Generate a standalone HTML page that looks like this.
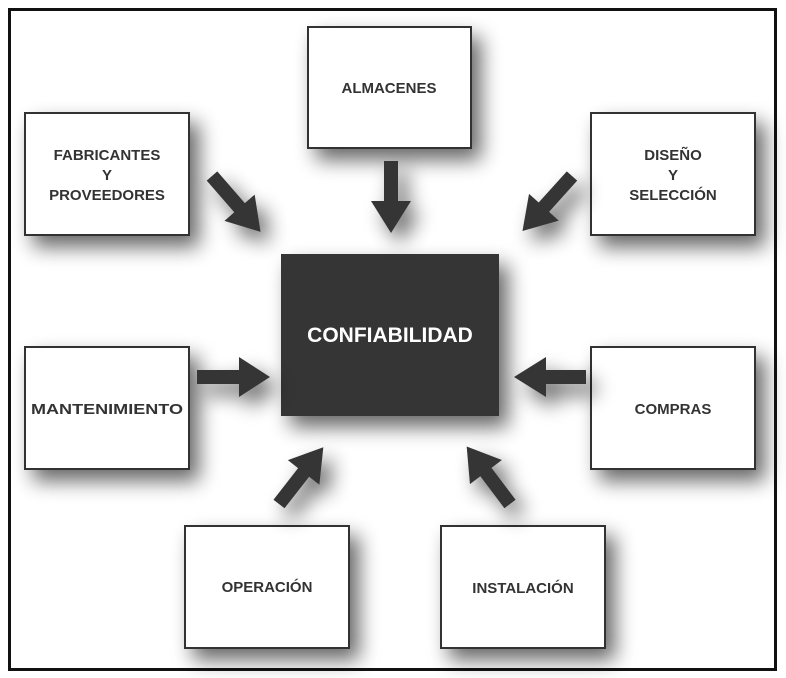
<!DOCTYPE html>
<html><head><meta charset="utf-8"><style>
html,body{margin:0;padding:0;background:#fff;}
svg{display:block;}
text{font-family:"Liberation Sans",sans-serif;font-weight:bold;}
</style></head><body>
<svg width="786" height="678" viewBox="0 0 786 678" xmlns="http://www.w3.org/2000/svg">
<defs>
<filter id="sh" x="-40%" y="-40%" width="190%" height="190%">
<feGaussianBlur in="SourceAlpha" stdDeviation="10"/>
<feOffset dx="9" dy="11" result="b"/>
<feComponentTransfer><feFuncA type="linear" slope="0.6"/></feComponentTransfer>
<feMerge><feMergeNode/><feMergeNode in="SourceGraphic"/></feMerge>
</filter>
</defs>
<rect x="0" y="0" width="786" height="678" fill="#fff"/>
<rect x="9.5" y="9.5" width="766" height="660" fill="#fff" stroke="#111" stroke-width="3"/>
<g filter="url(#sh)" fill="#fff" stroke="#333" stroke-width="2">
<rect x="308" y="27" width="163" height="121"/>
<rect x="25" y="113" width="164" height="122"/>
<rect x="591" y="113" width="164" height="122"/>
<rect x="25" y="347" width="164" height="122"/>
<rect x="591" y="347" width="164" height="122"/>
<rect x="185" y="526" width="164" height="122"/>
<rect x="441" y="526" width="164" height="122"/>
<rect x="282" y="255" width="216" height="160" fill="#363636" stroke="#363636"/>
</g>
<g fill="#363636" filter="url(#sh)">
<polygon transform="translate(391,161) rotate(90)" points="0,-7 40,-7 40,-20 72,0 40,20 40,7 0,7"/>
<polygon transform="translate(212,176) rotate(49)" points="0,-7 42,-7 42,-20 74,0 42,20 42,7 0,7"/>
<polygon transform="translate(572,176) rotate(132)" points="0,-7 42,-7 42,-20 74,0 42,20 42,7 0,7"/>
<polygon transform="translate(197,377) rotate(0)" points="0,-7 42,-7 42,-20 73,0 42,20 42,7 0,7"/>
<polygon transform="translate(586,377) rotate(180)" points="0,-7 40,-7 40,-20 72,0 40,20 40,7 0,7"/>
<polygon transform="translate(279,504) rotate(-52)" points="0,-7 40,-7 40,-20 72,0 40,20 40,7 0,7"/>
<polygon transform="translate(510,504) rotate(-127)" points="0,-7 40,-7 40,-20 72,0 40,20 40,7 0,7"/>
</g>
<g fill="#333" font-size="15" text-anchor="middle">
<text x="389" y="93">ALMACENES</text>
<text x="107" y="160">FABRICANTES</text>
<text x="107" y="180">Y</text>
<text x="107" y="200">PROVEEDORES</text>
<text x="673" y="160">DISEÑO</text>
<text x="673" y="180">Y</text>
<text x="673" y="200">SELECCIÓN</text>
<text x="107" y="414" textLength="152" lengthAdjust="spacingAndGlyphs">MANTENIMIENTO</text>
<text x="673" y="414">COMPRAS</text>
<text x="267" y="592">OPERACIÓN</text>
<text x="523" y="593">INSTALACIÓN</text>
</g>
<text x="390" y="342" fill="#fff" font-size="21" text-anchor="middle">CONFIABILIDAD</text>
</svg>
</body></html>
